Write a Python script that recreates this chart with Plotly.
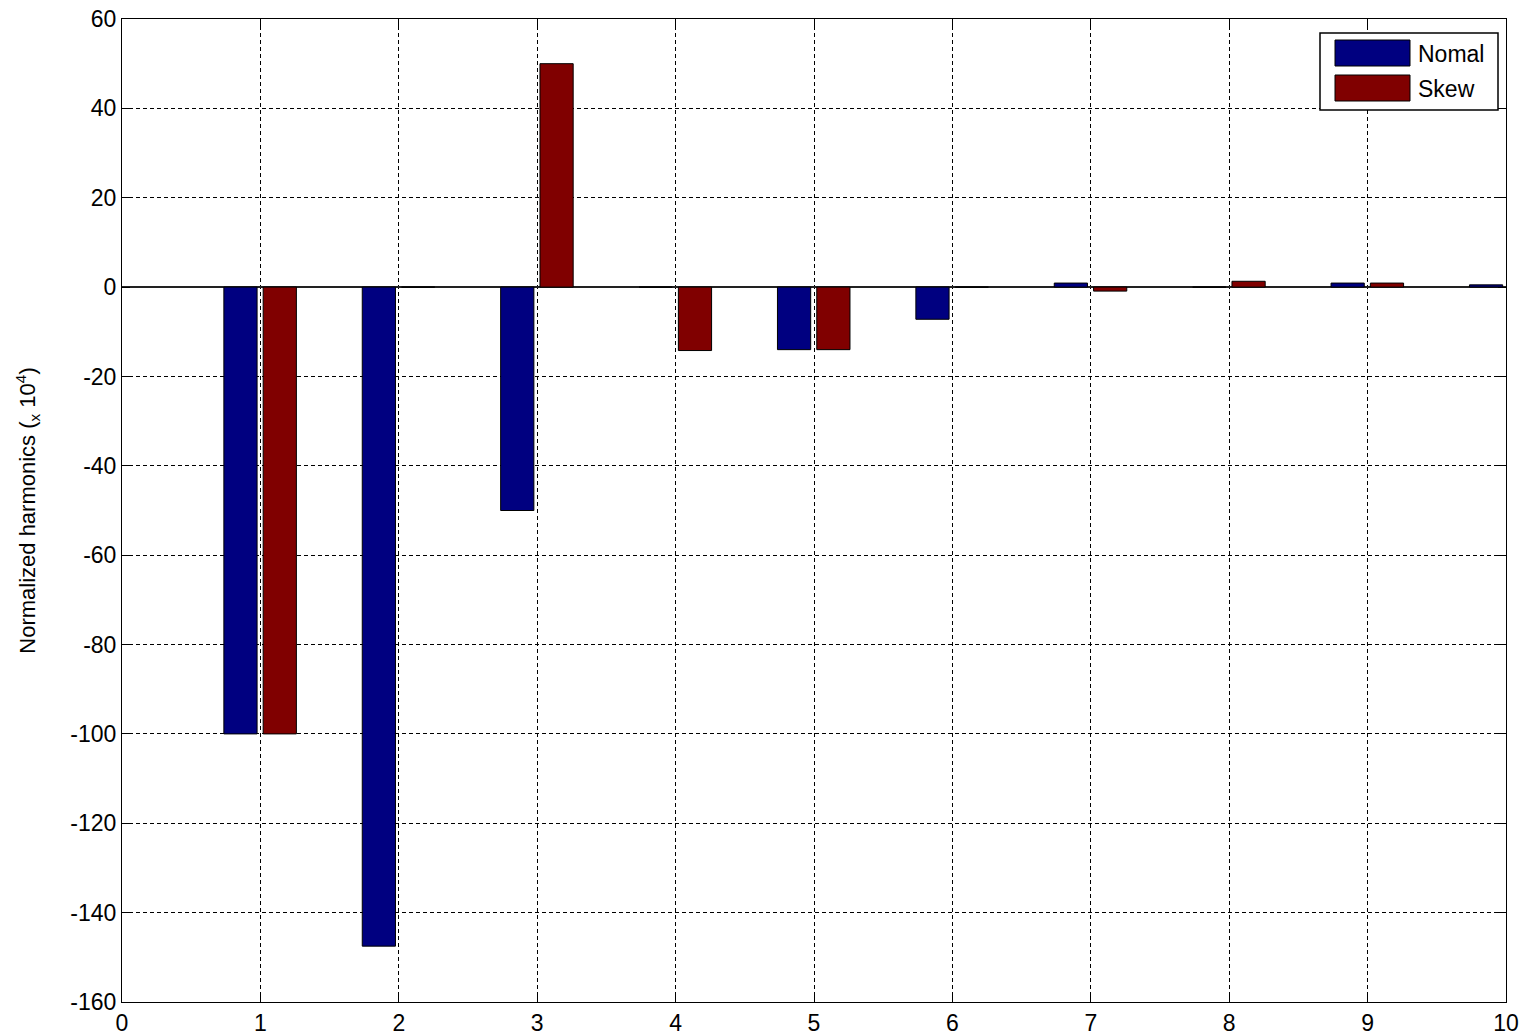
import plotly.graph_objects as go

# Harmonic order and normalized harmonic values (units of 1e-4)
orders = [1, 2, 3, 4, 5, 6, 7, 8, 9, 10]
nomal = [-100, -147.5, -50, 0, -14, -7.2, 0.9, 0, 0.9, 0.5]
skew = [-100, 0, 50, -14.2, -14, 0, -0.9, 1.3, 0.9, 0]

series_names = ["Nomal", "Skew"]
series_colors = ["#000080", "#800000"]

y_ticks = list(range(-160, 61, 20))
y_tick_labels = [str(v) for v in y_ticks]
x_ticks = list(range(0, 11))
x_tick_labels = [str(v) for v in x_ticks]

W, H = 1526, 1036
M_L, M_R, M_T, M_B = 122, 20, 19, 34

FONT = "Liberation Sans, Arial, sans-serif"

fig = go.Figure()
for name, vals, col, off in zip(series_names, [nomal, skew], series_colors, [-0.264, 0.02]):
    fig.add_trace(go.Bar(
        x=orders, y=vals, name=name,
        width=0.24, offset=off,
        marker=dict(color=col, line=dict(color="black", width=1)),
        showlegend=False,
    ))

axis_common = dict(
    showline=True, linecolor="black", linewidth=1, mirror="ticks",
    ticks="inside", ticklen=8, tickcolor="black", tickwidth=1,
    showgrid=True, gridcolor="black", gridwidth=1, griddash="4px,3px",
    tickfont=dict(family=FONT, size=23, color="black"),
    automargin=False,
)

fig.update_xaxes(range=[0, 10], tickvals=x_ticks, ticktext=x_tick_labels,
                 zeroline=False, **axis_common)
fig.update_yaxes(range=[-160, 60], tickvals=y_ticks, ticktext=y_tick_labels,
                 zeroline=True, zerolinecolor="#222222", zerolinewidth=1.5,
                 title=dict(text="Normalized harmonics (<sub>x</sub> 10<sup>4</sup>)",
                            font=dict(family=FONT, size=22, color="black"), standoff=28),
                 **axis_common)

# Legend box drawn in pixel space, converted to paper coordinates
pw, ph = W - M_L - M_R, H - M_T - M_B


def px(x):
    return (x - M_L) / pw


def py(y):
    return (H - M_B - y) / ph


shapes = [dict(type="rect", xref="paper", yref="paper",
               x0=px(1320), x1=px(1498), y0=py(110), y1=py(33),
               fillcolor="white", line=dict(color="black", width=1.5), layer="above")]
annotations = []
for i, (name, col) in enumerate(zip(series_names, series_colors)):
    top = 40 + i * 35
    shapes.append(dict(type="rect", xref="paper", yref="paper",
                       x0=px(1335), x1=px(1410), y0=py(top + 26), y1=py(top),
                       fillcolor=col, line=dict(color="black", width=1), layer="above"))
    annotations.append(dict(xref="paper", yref="paper", x=px(1416), y=py(top + 14),
                            text=name, showarrow=False, xanchor="left", yanchor="middle",
                            font=dict(family=FONT, size=23, color="black")))

fig.update_layout(
    width=W, height=H,
    margin=dict(l=M_L, r=M_R, t=M_T, b=M_B),
    paper_bgcolor="white", plot_bgcolor="white",
    barmode="overlay",
    shapes=shapes, annotations=annotations,
    showlegend=False,
)

fig.write_html("out.html")
